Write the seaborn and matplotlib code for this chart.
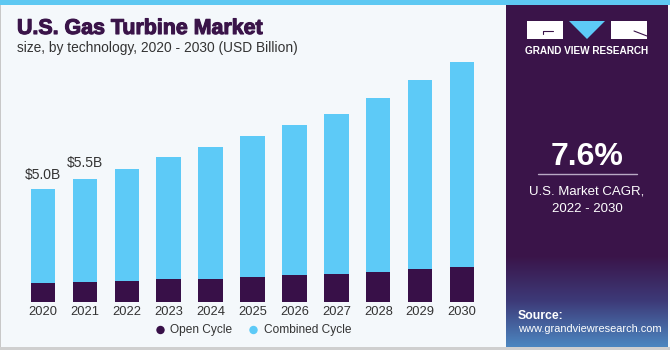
import numpy as np
import pandas as pd
import matplotlib
matplotlib.use("Agg")
import matplotlib.pyplot as plt
from matplotlib.patches import Rectangle, Polygon, Circle
from matplotlib.colors import LinearSegmentedColormap
import matplotlib.patheffects as pe
import seaborn as sns

# ---- data (USD Billion) ----
years = ["2020", "2021", "2022", "2023", "2024", "2025", "2026", "2027", "2028", "2029", "2030"]
open_cycle = [0.81, 0.87, 0.91, 0.99, 1.02, 1.10, 1.18, 1.24, 1.31, 1.43, 1.54]
combined_cycle = [4.19, 4.58, 4.98, 5.43, 5.85, 6.27, 6.70, 7.11, 7.77, 8.44, 9.11]
bar_labels = {"2020": "$5.0B", "2021": "$5.5B"}
series_names = ["Open Cycle", "Combined Cycle"]

DARK = "#381048"
LIGHT = "#5dcaf7"
PANEL = "#3a1449"
BG = "#f4f8fb"
TXT = "#333333"

totals = [o + c for o, c in zip(open_cycle, combined_cycle)]
df = pd.DataFrame({"year": years, "open": open_cycle, "combined": combined_cycle, "total": totals})

sns.set_theme(style="white")
plt.rcParams["font.family"] = ["Liberation Sans", "DejaVu Sans"]

W, H = 670, 350
fig = plt.figure(figsize=(W / 100, H / 100), dpi=100)
fig.patch.set_facecolor(BG)

# background / decoration axes in pixel coords
bg = fig.add_axes([0, 0, 1, 1], zorder=0)
bg.set_xlim(0, W)
bg.set_ylim(H, 0)
bg.axis("off")
bg.add_patch(Rectangle((0, 0), W, 5, color="#5ec8f2", lw=0))
bg.add_patch(Rectangle((0, 5), 1.2, H - 5, color="#c8c8c8", lw=0))
bg.add_patch(Rectangle((0, 347), W, 3, color="#cfcfcf", lw=0))
bg.add_patch(Rectangle((506, 5), 162, 342, color=PANEL, lw=0))
# gradient at bottom of panel
cmap = LinearSegmentedColormap.from_list("g", [PANEL, "#3d3a78", "#4c86c0"])
grad = np.linspace(0, 1, 100).reshape(-1, 1)
bg.imshow(grad, extent=(506, 668, 347, 255), cmap=cmap, aspect="auto", zorder=1)
bg.set_xlim(0, W)
bg.set_ylim(H, 0)

# logo
bg.add_patch(Rectangle((527, 21), 36, 18, color="white", lw=0, zorder=2))
bg.add_patch(Polygon([(569, 21), (605, 21), (587, 39)], closed=True, color=LIGHT, lw=0, zorder=2))
bg.add_patch(Rectangle((611, 21), 36, 18, color="white", lw=0, zorder=2))
bg.plot([543, 543, 553], [34, 31, 31], color=PANEL, lw=0.8, zorder=3)
bg.plot([634, 647], [31, 36], color=PANEL, lw=0.8, zorder=3)
bg.text(587, 51, "GRAND VIEW RESEARCH", color="white", fontsize=7.2, fontweight="bold",
        ha="center", va="center", zorder=3)

# CAGR
bg.text(587, 157, "7.6%", color="white", fontsize=23, fontweight="bold", ha="center", va="center", zorder=3)
bg.plot([538, 637], [173.5, 173.5], color="#b9a9c4", lw=1, zorder=3)
bg.text(587, 191, "U.S. Market CAGR,", color="white", fontsize=9.5, ha="center", va="center", zorder=3)
bg.text(587, 209, "2022 - 2030", color="white", fontsize=9.5, ha="center", va="center", zorder=3)

# Source
bg.text(518, 316, "Source:", color="white", fontsize=8.8, fontweight="bold", ha="left", va="center", zorder=3)
bg.text(518, 329.5, "www.grandviewresearch.com", color="white", fontsize=7.9, ha="left", va="center", zorder=3)

# Titles
bg.text(17, 28.5, "U.S. Gas Turbine Market", color="#3a1449", fontsize=15.4, fontweight="bold",
        ha="left", va="center", zorder=3,
        path_effects=[pe.withStroke(linewidth=0.8, foreground="#3a1449")])
bg.text(17, 48, "size, by technology, 2020 - 2030 (USD Billion)", color=TXT, fontsize=9.9,
        ha="left", va="center", zorder=3)

# Legend
bg.add_patch(Circle((160.5, 330), 4.2, color=DARK, lw=0, zorder=3))
bg.text(170, 330, series_names[0], color=TXT, fontsize=8.6, ha="left", va="center", zorder=3)
bg.add_patch(Circle((253.5, 330), 4.2, color=LIGHT, lw=0, zorder=3))
bg.text(264.5, 330, series_names[1], color=TXT, fontsize=8.6, ha="left", va="center", zorder=3)

# ---- chart axes ----
px_per_unit_x = 41.94
left_px = 42.8 - 0.6 * px_per_unit_x
right_px = 462.2 + 0.6 * px_per_unit_x
base_px = 301.5
px_per_b = 22.45
ymax = 12
ax = fig.add_axes([left_px / W, (H - base_px) / H, (right_px - left_px) / W, ymax * px_per_b / H], zorder=1)
ax.patch.set_alpha(0)

sns.barplot(data=df, x="year", y="total", color=LIGHT, width=0.58, saturation=1, ax=ax, linewidth=0)
sns.barplot(data=df, x="year", y="open", color=DARK, width=0.58, saturation=1, ax=ax, linewidth=0)

ax.set_xlim(-0.6, 10.6)
ax.set_ylim(0, ymax)
ax.set_xlabel("")
ax.set_ylabel("")
ax.set_yticks([])
ax.tick_params(axis="x", length=0, pad=3, labelsize=9.3, labelcolor=TXT)
for s in ax.spines.values():
    s.set_visible(False)

for i, y in enumerate(years):
    if y in bar_labels:
        ax.annotate(bar_labels[y], (i, totals[i]), xytext=(0, 10 + 1.5 * i), textcoords="offset points",
                    ha="center", va="center", fontsize=10, color=TXT)

fig.savefig("out.png", dpi=100, facecolor=fig.get_facecolor())
